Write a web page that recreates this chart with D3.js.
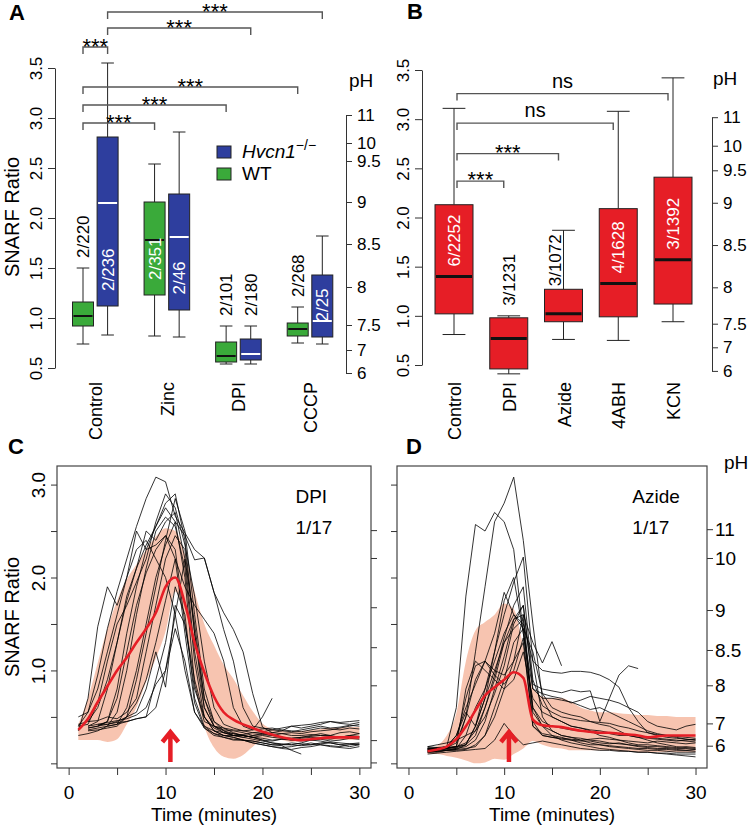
<!DOCTYPE html>
<html><head><meta charset="utf-8">
<script src="https://cdn.jsdelivr.net/npm/d3@7"></script>
<style>body{margin:0;background:#fff}</style>
</head><body>
<svg id="chart" width="750" height="828"></svg>
<script>
// ---------------- DATA ----------------
// Panel A: box stats [lowWhisker, q1, median, q3, highWhisker]
const treatmentsA = ["Control","Zinc","DPI","CCCP"];
const statsWT = [[0.74,0.92,1.02,1.16,1.50],[0.82,1.23,1.78,2.16,2.54],[0.54,0.56,0.62,0.76,0.92],[0.75,0.82,0.89,0.95,1.11]];
const statsKO = [[0.83,1.12,2.15,2.81,3.55],[0.81,1.08,1.81,2.24,2.86],[0.54,0.58,0.64,0.79,0.92],[0.74,0.81,0.97,1.43,1.82]];
const countsWT = ["2/220","2/351","2/101","2/268"];
const countsKO = ["2/236","2/46","2/180","2/25"];
// Panel B
const treatmentsB = ["Control","DPI","Azide","4ABH","KCN"];
const statsB = [[0.81,1.02,1.40,2.13,3.11],[0.41,0.46,0.77,0.98,1.00],[0.76,0.94,1.02,1.27,1.87],[0.75,0.99,1.33,2.09,3.08],[0.94,1.12,1.57,2.41,3.42]];
const countsB = ["6/2252","3/1231","3/1072","4/1628","3/1392"];
// Axis ticks
const ratioTicks = [0.5,1.0,1.5,2.0,2.5,3.0,3.5];
const phTicks = [11,10,9.5,9,8.5,8,7.5,7,6];
const phRatioA = [3.03,2.75,2.57,2.16,1.74,1.31,0.93,0.68,0.45];
const phRatioB = [3.02,2.73,2.48,2.15,1.72,1.29,0.92,0.68,0.44];
const phTicksCD = [11,10,9,8.5,8,7,6];
const phRatioC = [2.51,2.21,1.68,1.25,0.84,0.25,0.01];
const phRatioD = [2.52,2.21,1.65,1.22,0.84,0.43,0.19];
const ratioTicksCD = [0,0.5,1.0,1.5,2.0,2.5,3.0];
const timeTicks = [0,5,10,15,20,25,30];
const timeLim = [-1.2,31.2];
const ratioLimCD = [-0.05,3.2];
// Significance brackets
const bracketsA = [
  {from:["Control",0],to:["Control",1],level:3.71,label:"***"},
  {from:["Control",1],to:["CCCP",1],level:4.06,label:"***"},
  {from:["Control",1],to:["DPI",1],level:3.90,label:"***"},
  {from:["Control",0],to:["CCCP",0],level:3.31,label:"***"},
  {from:["Control",0],to:["DPI",0],level:3.13,label:"***"},
  {from:["Control",0],to:["Zinc",0],level:2.95,label:"***"}
];
const bracketsB = [
  {to:"KCN",level:3.26,label:"ns"},
  {to:"4ABH",level:2.96,label:"ns"},
  {to:"Azide",level:2.65,label:"***"},
  {to:"DPI",level:2.37,label:"***"}
];
// Panels C/D time series (minutes)
const minutes = [1,2,3,4,5,6,7,8,9,10,11,12,13,14,15,16,17,18,19,20,21,22,23,24,25,26,27,28,29,30];
const meanC = [0.36,0.48,0.66,0.83,1.00,1.14,1.30,1.45,1.62,1.90,2.00,1.72,1.30,0.98,0.72,0.55,0.47,0.42,0.38,0.34,0.31,0.28,0.26,0.25,0.26,0.27,0.28,0.28,0.28,0.28];
const upperC = [0.42,0.70,1.08,1.45,1.75,1.98,2.14,2.30,2.44,2.53,2.50,2.25,1.85,1.50,1.27,1.06,0.91,0.73,0.56,0.43,0.37,0.35,0.34,0.35,0.36,0.37,0.38,0.38,0.39,0.39];
const lowerC = [0.25,0.25,0.25,0.23,0.26,0.42,0.60,0.88,1.13,1.42,1.85,1.55,0.85,0.40,0.17,0.07,0.05,0.09,0.18,0.25,0.27,0.25,0.23,0.24,0.25,0.25,0.25,0.25,0.25,0.25];
const tracesC = [
 [0.40,0.55,0.95,1.45,1.85,2.20,2.55,2.85,3.08,3.03,2.66,2.48,2.30,2.21,1.84,1.62,1.44,1.20,0.75,0.39,0.33,0.32,0.30,0.30,0.31,0.30,0.30,0.33,0.34,0.32],
 [0.42,0.45,0.60,0.90,1.30,1.75,2.10,2.35,2.55,2.75,2.60,2.45,2.19,2.21,1.84,1.44,1.10,0.60,0.40,0.38,0.36,0.35,0.40,0.38,0.40,0.42,0.45,0.44,0.45,0.46],
 [0.35,0.70,1.47,1.90,1.70,2.00,2.50,2.30,2.35,2.45,2.30,1.50,0.80,0.50,0.38,0.33,0.30,0.30,0.28,0.25,0.22,0.20,0.20,0.22,0.25,0.24,0.22,0.20,0.18,0.20],
 [null,0.40,0.45,0.80,1.30,1.80,2.10,2.50,2.40,2.60,2.70,2.20,1.20,0.60,0.40,0.35,0.30,0.28,0.30,0.32,0.30,0.28,0.27,0.28,0.29,0.30,0.29,0.28,0.30,0.29],
 [null,0.38,0.40,0.45,0.80,1.40,1.90,2.30,2.55,2.80,2.90,2.40,1.40,0.70,0.45,0.38,0.33,0.30,0.28,0.27,0.25,0.26,0.25,0.24,0.25,0.26,0.24,0.25,0.27,0.26],
 [0.30,0.32,0.35,0.40,0.55,1.00,1.60,2.10,2.50,2.65,2.55,2.10,1.10,0.50,0.35,0.30,0.28,0.25,0.22,0.20,0.18,0.17,0.18,0.20,0.22,0.20,0.18,0.17,0.16,0.18],
 [null,0.35,0.36,0.38,0.40,0.50,0.90,1.40,1.90,2.40,2.85,2.50,1.60,0.80,0.45,0.35,0.32,0.30,0.28,0.30,0.28,0.27,0.25,0.27,0.28,0.27,0.26,0.28,0.29,0.28],
 [null,0.45,0.46,0.50,0.48,0.55,0.70,1.20,1.70,2.20,2.45,2.30,1.40,0.60,0.40,0.36,0.35,0.33,0.30,0.31,0.30,0.32,0.33,0.32,0.34,0.35,0.36,0.38,0.40,0.42],
 [null,null,0.40,0.42,0.45,0.50,0.55,0.80,1.20,0.82,1.70,1.50,0.90,0.50,0.35,0.30,0.28,0.25,0.22,0.20,0.18,0.16,0.15,0.17,0.18,0.20,0.19,0.18,0.20,0.21],
 [null,0.40,0.42,0.42,0.44,0.45,0.48,0.50,0.90,1.30,1.90,1.60,0.70,0.40,0.35,0.33,0.32,0.30,0.28,0.25,0.24,0.26,0.27,0.28,0.30,0.32,0.30,0.28,0.30,0.32],
 [0.50,0.55,0.80,1.20,1.60,2.00,2.30,2.40,2.20,2.00,1.60,1.00,0.55,0.40,0.32,0.28,0.25,0.25,0.24,0.22,0.20,0.20,0.22,0.21,0.20,0.22,0.23,0.22,0.21,0.20],
 [null,0.38,0.40,0.45,0.70,1.20,1.70,2.05,2.30,2.45,2.20,1.40,0.65,0.38,0.32,0.30,0.30,0.31,0.33,0.34,0.36,0.38,0.40,0.41,0.42,0.44,0.45,0.43,0.42,0.44],
 [null,null,0.42,0.44,0.46,0.48,0.52,0.60,0.85,1.00,1.45,1.10,0.55,0.38,0.30,0.28,0.26,0.25,0.24,0.22,0.20,0.19,0.14,0.10,null,null,null,null,null,null],
 [0.40,0.42,0.65,1.10,1.50,1.70,1.95,2.20,2.60,2.90,2.75,2.35,1.80,1.10,0.60,0.42,0.38,0.35,0.33,0.32,0.33,0.35,0.34,0.36,0.38,0.40,0.38,0.39,0.41,0.40],
 [null,0.36,0.38,0.40,0.42,0.60,1.00,1.50,2.00,2.35,2.60,2.00,0.85,0.45,0.40,0.38,0.36,0.35,0.36,0.37,0.38,0.36,0.35,0.34,0.36,0.38,0.37,0.36,0.38,0.37],
 [null,null,null,0.40,0.42,0.50,0.65,0.90,1.30,1.75,2.20,1.90,1.70,1.55,1.40,1.10,0.60,0.40,0.36,0.50,0.70,null,null,null,null,null,null,null,null,null],
 [null,null,null,null,0.42,0.45,0.48,0.50,0.60,1.00,1.60,2.20,1.50,0.70,0.40,0.33,0.30,0.28,0.26,0.24,0.22,0.21,0.20,0.19,0.20,0.21,0.22,0.20,0.21,0.22]
];
const meanD = [null,0.13,0.15,0.18,0.26,0.40,0.57,0.73,0.82,0.90,0.98,0.92,0.47,0.41,0.40,0.39,0.37,0.35,0.34,0.33,0.33,0.32,0.31,0.30,0.28,0.29,0.30,0.30,0.30,0.30];
const upperD = [null,0.16,0.19,0.30,0.54,1.10,1.43,1.52,1.60,1.72,1.66,1.26,0.82,0.72,0.70,0.70,0.66,0.60,0.57,0.55,0.55,0.54,0.53,0.52,0.52,0.51,0.51,0.50,0.50,0.50];
const lowerD = [null,0.10,0.10,0.08,0.06,0.03,0.00,0.01,0.05,0.04,0.10,0.16,0.24,0.20,0.17,0.16,0.14,0.14,0.14,0.14,0.14,0.13,0.13,0.12,0.12,0.12,0.12,0.12,0.12,0.12];
const tracesD = [
 [null,0.15,0.16,0.18,0.60,1.80,2.57,2.50,2.70,2.60,2.30,1.40,0.60,0.45,0.40,0.38,0.36,0.35,0.34,0.33,0.32,0.30,0.30,0.28,0.27,0.26,0.25,0.24,0.25,0.26],
 [null,0.14,0.15,0.16,0.18,0.50,1.20,1.90,2.60,2.80,3.08,2.40,1.50,0.70,0.50,0.45,0.40,0.38,0.36,0.35,0.33,0.32,0.31,0.30,0.28,0.27,0.26,0.25,0.24,0.23],
 [null,0.12,0.13,0.14,0.15,0.20,0.40,0.80,1.20,1.60,1.95,2.22,1.10,0.50,0.35,0.30,0.28,0.25,0.22,0.20,0.18,0.17,0.16,0.15,0.14,0.14,0.13,0.12,0.12,0.12],
 [null,0.16,0.17,0.18,0.30,0.60,0.85,1.10,1.40,1.84,1.60,1.45,1.20,0.75,0.60,0.55,0.52,0.50,0.45,0.42,0.40,0.35,0.30,0.28,0.25,0.22,0.20,0.18,0.17,0.16],
 [null,0.13,0.14,0.16,0.25,0.70,1.05,1.10,1.00,0.95,1.10,1.60,1.30,1.08,1.31,1.05,null,null,null,null,null,null,null,null,null,null,null,null,null,null],
 [null,0.12,0.13,0.14,0.16,0.30,0.60,0.80,1.10,1.40,1.60,1.50,1.10,1.00,0.98,0.97,0.99,0.99,0.98,0.95,0.90,0.82,0.60,0.45,0.33,0.30,0.28,0.27,0.26,0.25],
 [null,0.15,0.16,0.17,0.18,0.20,0.30,0.60,0.90,1.30,1.55,1.70,0.85,0.80,0.78,0.76,0.79,0.77,0.78,0.45,0.70,0.95,1.05,1.02,null,null,null,null,null,null],
 [null,0.14,0.15,0.15,0.16,0.18,0.25,0.45,0.80,1.15,1.55,1.60,0.55,0.40,0.35,0.30,0.28,0.27,0.25,0.24,0.22,0.21,0.20,0.19,0.18,0.18,0.17,0.16,0.16,0.15],
 [null,0.18,0.17,0.16,0.17,0.20,0.40,0.70,1.00,1.30,1.45,1.55,0.45,0.30,0.28,0.26,0.25,0.24,0.24,0.22,0.21,0.22,0.20,0.18,0.17,0.16,0.16,0.15,0.14,0.15],
 [null,0.12,0.12,0.14,0.15,0.16,0.18,0.30,0.60,0.90,1.30,1.45,0.60,0.40,0.30,0.25,0.22,0.20,0.18,0.16,0.15,0.14,0.13,0.12,0.12,0.11,0.10,0.09,0.08,0.07],
 [null,0.16,0.15,0.17,0.22,0.50,0.90,1.10,0.95,0.85,1.00,1.35,0.40,0.32,0.30,0.28,0.25,0.22,0.20,0.20,0.19,0.18,0.17,0.16,0.16,0.15,0.15,0.14,0.14,0.13],
 [null,0.10,0.11,0.12,0.13,0.14,0.15,0.16,0.25,0.43,0.30,0.20,0.22,0.24,0.22,0.20,0.18,0.16,0.15,0.14,0.14,0.13,0.13,0.12,0.12,0.11,0.11,0.10,0.10,0.10],
 [null,0.15,0.14,0.16,0.18,0.80,1.10,1.00,0.90,0.80,0.90,1.20,0.70,0.55,0.50,0.45,0.40,0.38,0.35,0.30,0.28,0.25,0.22,0.20,0.20,0.19,0.18,0.17,0.18,0.17],
 [null,0.18,0.20,0.22,0.25,0.30,0.35,0.50,0.75,1.05,1.50,1.70,0.80,0.70,0.70,0.68,0.66,0.62,0.58,0.60,0.55,0.50,0.45,0.40,0.35,0.32,0.30,0.28,0.26,0.25],
 [null,0.13,0.13,0.14,0.14,0.15,0.20,0.30,0.50,0.80,1.10,1.30,0.40,0.30,0.28,0.27,0.26,0.25,0.26,0.27,0.26,0.25,0.24,0.23,0.22,0.24,0.23,0.22,0.21,0.22],
 [null,0.17,0.16,0.18,0.30,0.55,0.40,0.70,1.20,1.75,2.00,1.40,0.80,0.75,0.72,0.70,0.65,0.68,0.72,0.70,0.68,0.65,0.60,0.55,0.45,0.40,0.38,0.36,0.40,0.42],
 [null,0.16,0.16,0.17,0.18,0.22,0.35,0.60,0.95,1.35,1.70,1.90,0.90,0.62,0.55,0.50,0.48,0.46,0.45,0.44,0.43,0.40,0.38,0.35,0.33,0.31,0.30,0.29,0.28,0.27]
];
const stimulusTime = 10.5;

// ---------------- DRAWING ----------------
const FONT = "'Liberation Sans', Arial, Helvetica, sans-serif";
const GREEN = "#3aaa3a", BLUE = "#2e3e9e", RED = "#e61e26", AX = "#333";
const svg = d3.select("#chart").attr("font-family", FONT);

function styleAxis(g, size){
  g.attr("font-size", size).attr("font-family", FONT);
  g.selectAll("line").attr("stroke", AX);
  g.select(".domain").attr("stroke", AX);
  g.selectAll("text").attr("fill", "#000");
}
function rotateLabels(g, off){
  g.selectAll(".tick text").attr("x",0).attr("y",-off).attr("dy",null)
   .attr("text-anchor","middle").attr("transform","rotate(-90)");
}
function vText(g, x, y, str, anchor, size, fill, weight){
  return g.append("text").attr("transform",`translate(${x},${y}) rotate(-90)`)
    .attr("text-anchor",anchor).attr("font-size",size).attr("fill",fill||"#000")
    .attr("font-weight",weight||"normal").text(str);
}
function drawBox(g, cx, w, s, fill, medColor, medW){
  const [lo,q1,md,q3,hi] = s;
  const y = g.yScale;
  const cap = w*0.6;
  g.append("line").attr("x1",cx).attr("x2",cx).attr("y1",y(hi)).attr("y2",y(q3)).attr("stroke","#222");
  g.append("line").attr("x1",cx).attr("x2",cx).attr("y1",y(q1)).attr("y2",y(lo)).attr("stroke","#222");
  g.append("line").attr("x1",cx-cap/2).attr("x2",cx+cap/2).attr("y1",y(hi)).attr("y2",y(hi)).attr("stroke","#222");
  g.append("line").attr("x1",cx-cap/2).attr("x2",cx+cap/2).attr("y1",y(lo)).attr("y2",y(lo)).attr("stroke","#222");
  g.append("rect").attr("x",cx-w/2).attr("y",y(q3)).attr("width",w).attr("height",y(q1)-y(q3))
    .attr("fill",fill).attr("stroke","#222").attr("stroke-width",1);
  g.append("line").attr("x1",cx-w/2+1).attr("x2",cx+w/2-1).attr("y1",y(md)).attr("y2",y(md))
    .attr("stroke",medColor).attr("stroke-width",medW);
}
function placeCount(g, cx, s, label, insideRule){
  const y = g.yScale, fs = 17;
  const len = label.length*0.5*fs;
  const boxPx = y(s[1]) - y(s[3]);
  const whiskPx = y(s[3]) - y(s[4]);
  if (boxPx > len + 12){
    const r = insideRule(s, y, len);
    vText(g, cx+6, r, label, "middle", fs, "#fff");
  } else if (whiskPx > 50){
    vText(g, cx-3, y(s[3])-3, label, "start", fs, "#000");
  } else {
    vText(g, cx+6, y(s[4])-10, label, "start", fs, "#000");
  }
}
function bracket(g, x1, x2, y, label, size, dy){
  g.append("path").attr("d",`M${x1},${y+7}V${y}H${x2}V${y+7}`)
    .attr("fill","none").attr("stroke","#555").attr("stroke-width",1.4);
  g.append("text").attr("x",(x1+x2)/2).attr("y",y+dy).attr("text-anchor","middle")
    .attr("font-size",size).text(label);
}
function phAxis(g, x, yS, ticks, ratios, labels, size){
  const phScale = d3.scaleLinear().domain(ticks).range(ratios.map(yS));
  const ax = g.append("g").attr("transform",`translate(${x},0)`)
    .call(d3.axisRight(phScale).tickValues(ticks).tickSize(6).tickSizeOuter(0).tickPadding(5)
      .tickFormat(labels ? (d=>String(d)) : (()=>"")));
  styleAxis(ax, size);
  return ax;
}

// ---------- Panel A ----------
const gA = svg.append("g");
const yA = d3.scaleLinear().domain([0.5,3.5]).range([368,68]);
const xA = d3.scalePoint().domain(treatmentsA).range([95.3,310]);
const offA = 12.3, bwA = 21;
gA.yScale = yA;
const axA = gA.append("g").attr("transform","translate(55,0)")
  .call(d3.axisLeft(yA).tickValues(ratioTicks).tickSize(7).tickSizeOuter(0).tickFormat(d3.format(".1f")));
styleAxis(axA, 17); rotateLabels(axA, 13);
vText(gA, 19, 217, "SNARF Ratio", "middle", 20);
treatmentsA.forEach((t,i)=>{
  drawBox(gA, xA(t)-offA, bwA, statsWT[i], GREEN, "#111", 2);
  drawBox(gA, xA(t)+offA, bwA, statsKO[i], BLUE, "#fff", 2);
  const insideA = (s,y,len)=> y(s[1]) - 15 - len/2;
  placeCount(gA, xA(t)-offA, statsWT[i], countsWT[i], insideA);
  placeCount(gA, xA(t)+offA, statsKO[i], countsKO[i], insideA);
  vText(gA, xA(t)+7, 382, t, "end", 18);
});
const geoOff = [-offA, offA];
bracketsA.forEach(b=>{
  bracket(gA, xA(b.from[0])+geoOff[b.from[1]], xA(b.to[0])+geoOff[b.to[1]], yA(b.level), b.label, 22, 7);
});
phAxis(gA, 346, yA, phTicks, phRatioA, true, 17);
gA.append("text").attr("x",349).attr("y",87).attr("font-size",19).text("pH");
// legend
gA.append("rect").attr("x",217).attr("y",146).attr("width",14).attr("height",12).attr("fill",BLUE).attr("stroke","#222");
gA.append("rect").attr("x",217).attr("y",168).attr("width",14).attr("height",12).attr("fill",GREEN).attr("stroke","#222");
const lt = gA.append("text").attr("x",242).attr("y",158).attr("font-size",19);
lt.append("tspan").attr("font-style","italic").text("Hvcn1");
lt.append("tspan").attr("dy",-8).attr("font-size",14).text("\u2212/\u2212");
gA.append("text").attr("x",242).attr("y",180).attr("font-size",19).text("WT");
gA.append("text").attr("x",9).attr("y",20).attr("font-size",22).attr("font-weight","bold").text("A");

// ---------- Panel B ----------
const gB = svg.append("g");
const yB = d3.scaleLinear().domain([0.5,3.5]).range([365,70]);
const xB = d3.scalePoint().domain(treatmentsB).range([454,673]);
gB.yScale = yB;
const axB = gB.append("g").attr("transform","translate(422,0)")
  .call(d3.axisLeft(yB).tickValues(ratioTicks).tickSize(7).tickSizeOuter(0).tickFormat(d3.format(".1f")));
styleAxis(axB, 17); rotateLabels(axB, 13);
treatmentsB.forEach((t,i)=>{
  drawBox(gB, xB(t), 38, statsB[i], RED, "#111", 3);
  placeCount(gB, xB(t), statsB[i], countsB[i], (s,y)=> y(s[2]) - 36);
  vText(gB, xB(t)+7, 382, t, "end", 18);
});
bracketsB.forEach(b=>{
  const lab = b.label === "ns";
  bracket(gB, xB("Control")+3, xB(b.to)-5, yB(b.level), b.label, lab?20:22, lab?-6:6);
});
phAxis(gB, 712, yB, phTicks, phRatioB, true, 17);
gB.append("text").attr("x",713).attr("y",85).attr("font-size",19).text("pH");
gB.append("text").attr("x",407).attr("y",19).attr("font-size",22).attr("font-weight","bold").text("B");

// ---------- Panels C / D ----------
function timePanel(cfg){
  const g = svg.append("g");
  const x = d3.scaleLinear().domain(timeLim).range(cfg.xr);
  const y = d3.scaleLinear().domain(ratioLimCD).range([768,466]);
  const area = d3.area().defined((d,i)=>cfg.lower[i]!=null && cfg.upper[i]!=null)
    .x((d,i)=>x(minutes[i])).y0((d,i)=>y(cfg.lower[i])).y1((d,i)=>y(cfg.upper[i])).curve(d3.curveMonotoneX);
  g.append("path").attr("d", area(minutes)).attr("fill","#f7c4b0");
  const line = d3.line().defined(d=>d!=null).x((d,i)=>x(minutes[i])).y(d=>y(d));
  cfg.traces.forEach(tr=>{
    g.append("path").attr("d", line(tr)).attr("fill","none").attr("stroke","#000").attr("stroke-width",0.8);
  });
  const mline = d3.line().defined(d=>d!=null).x((d,i)=>x(minutes[i])).y(d=>y(d)).curve(d3.curveMonotoneX);
  g.append("path").attr("d", mline(cfg.mean)).attr("fill","none").attr("stroke",RED).attr("stroke-width",2.6);
  // box
  g.append("rect").attr("x",cfg.xr[0]).attr("y",466).attr("width",cfg.xr[1]-cfg.xr[0]).attr("height",302)
    .attr("fill","none").attr("stroke","#444").attr("stroke-width",1.2);
  // arrow
  const ax0 = x(stimulusTime), tip = 768-37, tail = 768-6;
  g.append("path").attr("d",`M${ax0},${tail}V${tip+3}M${ax0-8},${tip+11}L${ax0},${tip+1}L${ax0+8},${tip+11}`)
    .attr("fill","none").attr("stroke",RED).attr("stroke-width",4.5).attr("stroke-linejoin","miter");
  // axes
  const xa = g.append("g").attr("transform","translate(0,768)")
    .call(d3.axisBottom(x).tickValues(timeTicks).tickSize(7).tickPadding(11).tickFormat(d=> d%10===0 ? String(d) : ""));
  xa.select(".domain").remove();
  styleAxis(xa, 19);
  g.append("text").attr("x",(x(0)+x(30))/2).attr("y",821).attr("text-anchor","middle").attr("font-size",19).text("Time (minutes)");
  const ya = g.append("g").attr("transform",`translate(${cfg.xr[0]},0)`)
    .call(d3.axisLeft(y).tickValues(ratioTicksCD).tickSize(6).tickSizeOuter(0)
      .tickFormat(d=> cfg.leftLabels && d>=1 && d%1===0 ? d.toFixed(1) : ""));
  ya.select(".domain").remove();
  styleAxis(ya, 19); rotateLabels(ya, 12);
  const pa = phAxis(g, cfg.xr[1], y, phTicksCD, cfg.ph, cfg.phLabels, 19);
  pa.select(".domain").remove();
  pa.selectAll(".tick text").attr("x",8);
  g.append("text").attr("x",x(23.4)).attr("y",y(2.8)).attr("font-size",19).text(cfg.title);
  g.append("text").attr("x",x(23.4)).attr("y",y(2.47)).attr("font-size",19).text("1/17");
  g.append("text").attr("x",cfg.letterX).attr("y",454).attr("font-size",22).attr("font-weight","bold").text(cfg.letter);
  if (cfg.leftLabels) vText(g, 19, 617, "SNARF Ratio", "middle", 20);
  if (cfg.phLabels) g.append("text").attr("x",cfg.xr[1]+17).attr("y",469).attr("font-size",19).text("pH");
}
timePanel({xr:[57,371], traces:tracesC, mean:meanC, upper:upperC, lower:lowerC, ph:phRatioC,
  phLabels:false, leftLabels:true, title:"DPI", letter:"C", letterX:8});
timePanel({xr:[397,707], traces:tracesD, mean:meanD, upper:upperD, lower:lowerD, ph:phRatioD,
  phLabels:true, leftLabels:false, title:"Azide", letter:"D", letterX:406});
</script>
</body></html>
